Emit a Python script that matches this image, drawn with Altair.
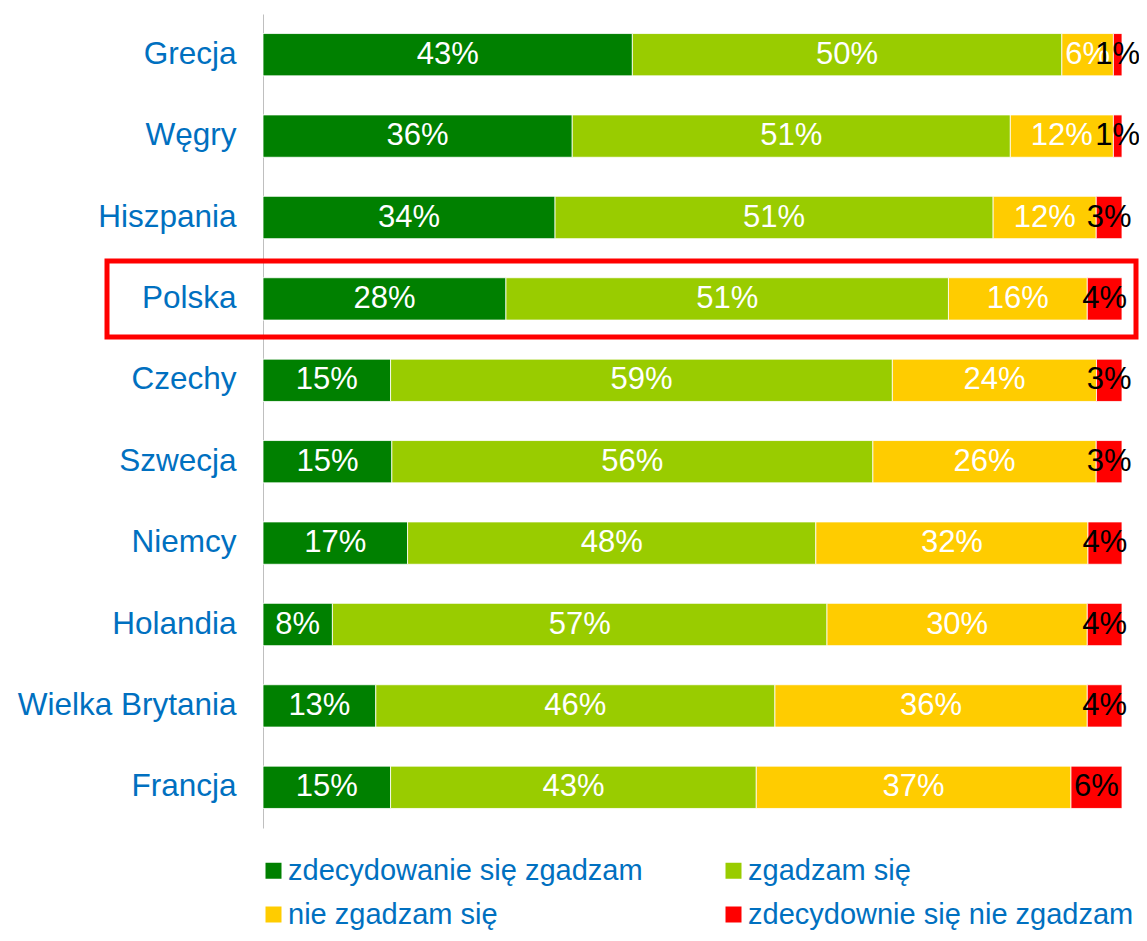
import altair as alt
import pandas as pd

countries = ["Grecja", "Węgry", "Hiszpania", "Polska", "Czechy", "Szwecja",
             "Niemcy", "Holandia", "Wielka Brytania", "Francja"]
categories = ["zdecydowanie się zgadzam", "zgadzam się", "nie zgadzam się",
              "zdecydownie się nie zgadzam"]
colors = ["#008000", "#99CC00", "#FFCC00", "#FF0000"]

strongly_agree = [43, 36, 34, 28, 15, 15, 17, 8, 13, 15]
agree = [50, 51, 51, 51, 59, 56, 48, 57, 46, 43]
disagree = [6, 12, 12, 16, 24, 26, 32, 30, 36, 37]
strongly_disagree = [1, 1, 3, 4, 3, 3, 4, 4, 4, 6]
highlight = ["Polska"]

series = [strongly_agree, agree, disagree, strongly_disagree]
rows = []
for ci, (cat, vals) in enumerate(zip(categories, series)):
    for c, v in zip(countries, vals):
        rows.append({"country": c, "cat": cat, "order": ci, "value": v,
                     "label": f"{v}%"})
df = pd.DataFrame(rows)
hl_df = pd.DataFrame({"country": highlight})

FONT = "Liberation Sans"

base = alt.Chart(df).transform_stack(
    stack="value", groupby=["country"], as_=["x0", "x1"],
    offset="normalize", sort=[alt.SortField("order", "ascending")]
).transform_calculate(mid="(datum.x0 + datum.x1) / 2")

yenc = alt.Y("country:N", sort=countries, title=None,
             scale=alt.Scale(paddingInner=0.48, paddingOuter=0.24),
             axis=alt.Axis(labelFont=FONT, labelFontSize=31.5, labelColor="#0070C0",
                           labelPadding=27, ticks=False, tickSize=0,
                           domainColor="#BFBFBF", domainWidth=1, grid=False,
                           labelLimit=0))
xscale = alt.Scale(domain=[0, 1], nice=False, zero=True)

bars = base.mark_bar(stroke="white", strokeWidth=0.8).encode(
    x=alt.X("x0:Q", scale=xscale, axis=None),
    x2="x1:Q",
    y=yenc,
    color=alt.Color("cat:N", sort=categories,
                    scale=alt.Scale(domain=categories, range=colors),
                    legend=alt.Legend(title=None, orient="none", legendX=-4, legendY=842,
                                      direction="horizontal",
                                      columns=2, symbolType="square", symbolSize=256,
                                      symbolStrokeWidth=0, labelFont=FONT,
                                      labelFontSize=29, labelColor="#0070C0",
                                      labelOffset=0, columnPadding=76, rowPadding=14,
                                      labelLimit=0, padding=0)),
    order=alt.Order("order:Q"),
)

labels = base.mark_text(font=FONT, fontSize=31, baseline="middle", align="center").encode(
    x=alt.X("mid:Q", scale=xscale, axis=None),
    y=alt.Y("country:N", sort=countries),
    text="label:N",
    color=alt.condition(alt.datum.cat == categories[3], alt.value("black"), alt.value("white")),
)

box = alt.Chart(hl_df).mark_bar(filled=False, stroke="#FF0000", strokeWidth=5,
                                height=76).encode(
    y=alt.Y("country:N", sort=countries),
    x=alt.value(-156),
    x2=alt.value(873),
)

chart = alt.layer(bars, labels, box).properties(
    width=859, height=814,
    autosize=alt.AutoSizeParams(type="none"),
    padding={"left": 255, "top": 6, "right": 17, "bottom": 105},
).configure_view(stroke=None)

chart.save("out.html", embed_options={"renderer": "svg", "actions": False})
